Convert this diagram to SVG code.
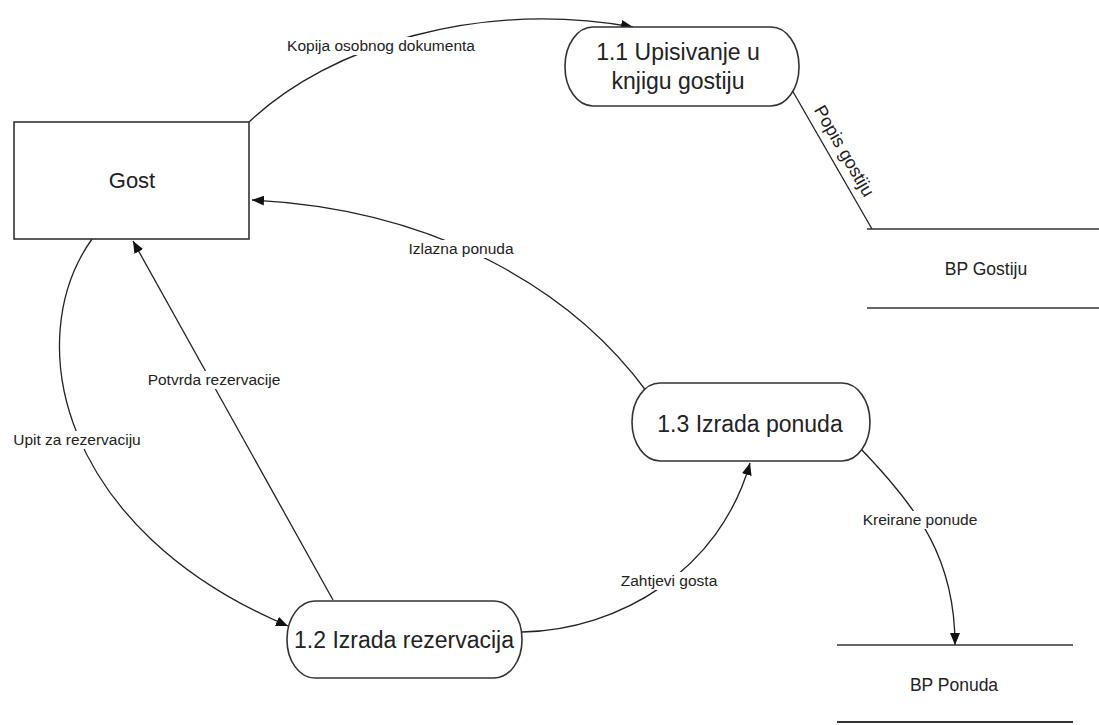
<svg xmlns="http://www.w3.org/2000/svg" width="1099" height="725" viewBox="0 0 1099 725">
<defs>
<style>
.bg{fill:#ffffff}
.box{fill:#ffffff;stroke:#333;stroke-width:1.6}
.store{stroke:#333;stroke-width:1.6;fill:none}
.flow{fill:none;stroke:#222;stroke-width:1.3}
.ntext{font-family:"Liberation Sans",Arial,sans-serif;font-size:23px;fill:#222;text-anchor:middle}
.stext{font-family:"Liberation Sans",Arial,sans-serif;font-size:17.5px;fill:#222;text-anchor:middle}
.ltext{font-family:"Liberation Sans",Arial,sans-serif;font-size:15.5px;fill:#222;text-anchor:middle}
.lbg{fill:#ffffff}
</style>
<marker id="arr" viewBox="0 0 12 10" refX="12" refY="5" markerWidth="12" markerHeight="10" markerUnits="userSpaceOnUse" orient="auto">
<path d="M0,0 L12,5 L0,10 z" fill="#111"/>
</marker>
</defs>
<rect class="bg" x="0" y="0" width="1099" height="725"/>

<g id="connectors">
<path id="c-kopija" class="flow" d="M249,122 C330,45 480,0 633,27" marker-end="url(#arr)"/>
<path id="c-popis" class="flow" d="M792,90 L872,229"/>
<path id="c-izlazna" class="flow" d="M647,392 C580,300 450,210 252,200" marker-end="url(#arr)"/>
<path id="c-upit" class="flow" d="M92,239 C20,340 60,530 288,626" marker-end="url(#arr)"/>
<path id="c-potvrda" class="flow" d="M333,600 L133,241" marker-end="url(#arr)"/>
<path id="c-zahtjevi" class="flow" d="M522,632 C620,630 720,570 750,463" marker-end="url(#arr)"/>
<path id="c-kreirane" class="flow" d="M860,448 C920,510 955,560 955,645" marker-end="url(#arr)"/>

<rect class="lbg" x="284" y="37" width="196" height="18"/>
<text class="ltext" x="381" y="51">Kopija osobnog dokumenta</text>
<text class="ltext" style="font-size:18px" transform="translate(839,154) rotate(60)" x="0" y="0">Popis gostiju</text>
<rect class="lbg" x="404" y="240" width="116" height="18"/>
<text class="ltext" x="461" y="254">Izlazna ponuda</text>
<rect class="lbg" x="10" y="431" width="134" height="18"/>
<text class="ltext" x="77" y="445">Upit za rezervaciju</text>
<rect class="lbg" x="143" y="371" width="142" height="18"/>
<text class="ltext" x="214" y="385">Potvrda rezervacije</text>
<rect class="lbg" x="617" y="572" width="104" height="18"/>
<text class="ltext" x="669" y="586">Zahtjevi gosta</text>
<rect class="lbg" x="860" y="511" width="120" height="18"/>
<text class="ltext" x="920" y="525">Kreirane ponude</text>
</g>

<g id="gost">
<rect class="box" x="14" y="122" width="235" height="117"/>
<text class="ntext" style="font-size:22px" x="132" y="188">Gost</text>
</g>

<g id="p11">
<rect class="box" x="565" y="27" width="234" height="79" rx="28" ry="39"/>
<text class="ntext" x="678" y="60">1.1 Upisivanje u</text>
<text class="ntext" x="678" y="89">knjigu gostiju</text>
</g>

<g id="p12">
<rect class="box" x="287" y="601" width="235" height="77" rx="28" ry="38"/>
<text class="ntext" x="404" y="648">1.2 Izrada rezervacija</text>
</g>

<g id="p13">
<rect class="box" x="632" y="383" width="238" height="78" rx="28" ry="39"/>
<text class="ntext" x="750" y="432">1.3 Izrada ponuda</text>
</g>

<g id="bp-gostiju">
<line class="store" x1="867" y1="229" x2="1099" y2="229"/>
<line class="store" x1="867" y1="308" x2="1099" y2="308"/>
<text class="stext" x="986" y="275">BP Gostiju</text>
</g>

<g id="bp-ponuda">
<line class="store" x1="837" y1="645" x2="1073" y2="645"/>
<line class="store" x1="837" y1="722" x2="1073" y2="722" style="stroke-width:2"/>
<text class="stext" x="954" y="691">BP Ponuda</text>
</g>
</svg>
